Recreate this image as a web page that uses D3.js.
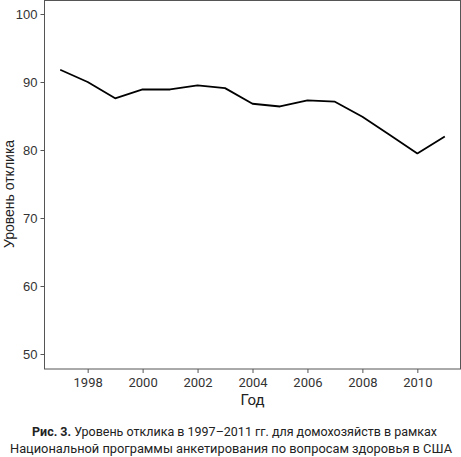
<!DOCTYPE html>
<html>
<head>
<meta charset="utf-8">
<script src="https://cdn.jsdelivr.net/npm/d3@7"></script>
<style>
  body { margin: 0; background: #fff; }
  svg { display: block; }
</style>
</head>
<body>
<svg id="chart"></svg>
<script>
// data
const years = [1997, 1998, 1999, 2000, 2001, 2002, 2003, 2004, 2005, 2006, 2007, 2008, 2009, 2010, 2011];
const responseRate = [91.8, 90.0, 87.6, 88.9, 88.9, 89.5, 89.1, 86.8, 86.4, 87.3, 87.1, 84.9, 82.2, 79.5, 82.0];
const xTicks = [1998, 2000, 2002, 2004, 2006, 2008, 2010];
const yTicks = [50, 60, 70, 80, 90, 100];
const xLabel = "Год";
const yLabel = "Уровень отклика";
const captionLines = [
  ["Рис. 3.", " Уровень отклика в 1997–2011 гг. для домохозяйств в рамках"],
  ["", "Национальной программы анкетирования по вопросам здоровья в США"]
];

const width = 461, height = 457;
const box = { left: 44.5, right: 460.5, top: 0.5, bottom: 369 };

const svg = d3.select("#chart")
  .attr("width", width)
  .attr("height", height);

const x = d3.scaleLinear().domain([1997, 2011]).range([60.2, 444.8]);
const y = d3.scaleLinear().domain([50, 100]).range([354, 14]);

// frame around the plot
svg.append("rect")
  .attr("x", box.left).attr("y", box.top)
  .attr("width", box.right - box.left)
  .attr("height", box.bottom - box.top)
  .attr("fill", "none")
  .attr("stroke", "#555")
  .attr("stroke-width", 1);

// y axis
const yAxis = svg.append("g")
  .attr("transform", `translate(${box.left},0)`)
  .call(d3.axisLeft(y).tickValues(yTicks).tickSize(4).tickPadding(3));
yAxis.select(".domain").remove();
yAxis.selectAll("line").attr("stroke", "#555");
yAxis.selectAll("text")
  .attr("fill", "#333")
  .style("font-family", "'Liberation Sans', Arial, sans-serif")
  .style("font-size", "13px");

// x axis
const xAxis = svg.append("g")
  .attr("transform", `translate(0,${box.bottom})`)
  .call(d3.axisBottom(x).tickValues(xTicks).tickFormat(d3.format("d")).tickSize(4).tickPadding(5));
xAxis.select(".domain").remove();
xAxis.selectAll("line").attr("stroke", "#555");
xAxis.selectAll("text")
  .attr("fill", "#333")
  .style("font-family", "Roboto, sans-serif")
  .style("font-size", "13px");

// axis titles
svg.append("text")
  .attr("x", (box.left + box.right) / 2)
  .attr("y", 405)
  .attr("text-anchor", "middle")
  .attr("fill", "#222")
  .style("font-family", "Roboto, sans-serif")
  .style("font-size", "15px")
  .text(xLabel);

svg.append("text")
  .attr("transform", `translate(14,${y(75) + 10}) rotate(-90)`)
  .attr("text-anchor", "middle")
  .attr("fill", "#222")
  .style("font-family", "'Liberation Sans', Arial, sans-serif")
  .style("font-size", "14px")
  .text(yLabel);

// the line
const line = d3.line()
  .x((d, i) => x(years[i]))
  .y(d => y(d));

svg.append("path")
  .datum(responseRate)
  .attr("d", line)
  .attr("fill", "none")
  .attr("stroke", "#000")
  .attr("stroke-width", 1.8)
  .attr("stroke-linejoin", "round");

// caption
const captionY = [436, 453];
const captionSpan = [[32, 437], [10, 452]];
captionLines.forEach((parts, i) => {
  const t = svg.append("text")
    .attr("x", (captionSpan[i][0] + captionSpan[i][1]) / 2)
    .attr("y", captionY[i])
    .attr("text-anchor", "middle")
    .attr("fill", "#222")
    .attr("textLength", captionSpan[i][1] - captionSpan[i][0])
    .attr("lengthAdjust", "spacingAndGlyphs")
    .style("font-family", "Roboto, sans-serif")
    .style("font-size", "12.5px");
  if (parts[0]) t.append("tspan").attr("font-weight", "bold").text(parts[0]);
  t.append("tspan").text(parts[1]);
});
</script>
</body>
</html>
